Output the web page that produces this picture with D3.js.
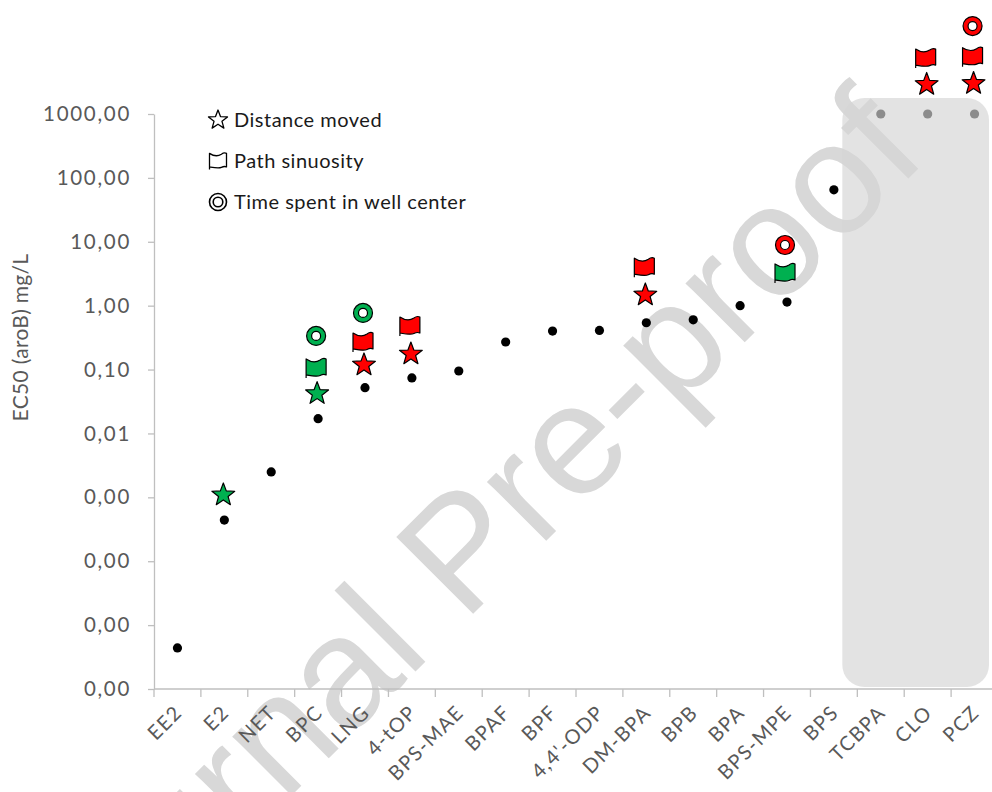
<!DOCTYPE html>
<html>
<head>
<meta charset="utf-8">
<script src="https://cdn.jsdelivr.net/npm/d3@7"></script>
<style>
  html, body { margin: 0; padding: 0; background: #fff; }
  svg { display: block; }
</style>
</head>
<body>
<svg id="chart" width="992" height="792"></svg>
<script>
// Compounds along the x axis
const categories = ["EE2", "E2", "NET", "BPC", "LNG", "4-tOP", "BPS-MAE", "BPAF", "BPF",
  "4,4'-ODP", "DM-BPA", "BPB", "BPA", "BPS-MPE", "BPS", "TCBPA", "CLO", "PCZ"];

// EC50 (aroB) in mg/L, one per compound
const ec50Values = [4.4e-6, 4.4e-4, 2.5e-3, 0.017, 0.052, 0.074, 0.095, 0.27, 0.40,
  0.41, 0.54, 0.60, 1.0, 1.14, 65, 1000, 1000, 1000];

// Behavioural endpoints: [compound, value, colour class]
const distanceMoved = [
  ["E2", 1.09e-3, "green"], ["BPC", 0.042, "green"], ["LNG", 0.118, "red"],
  ["4-tOP", 0.175, "red"], ["DM-BPA", 1.47, "red"], ["CLO", 2900, "red"], ["PCZ", 3000, "red"]
];
const pathSinuosity = [
  ["BPC", 0.106, "green"], ["LNG", 0.27, "red"], ["4-tOP", 0.48, "red"],
  ["DM-BPA", 4.0, "red"], ["BPS-MPE", 3.25, "green"], ["CLO", 7500, "red"], ["PCZ", 7900, "red"]
];
const timeInCenter = [
  ["BPC", 0.336, "green"], ["LNG", 0.77, "green"], ["BPS-MPE", 8.9, "red"], ["PCZ", 23800, "red"]
];

const yTicks = [1e-6, 1e-5, 1e-4, 1e-3, 1e-2, 1e-1, 1, 10, 100, 1000];
const legendItems = ["Distance moved", "Path sinuosity", "Time spent in well center"];
const highlighted = ["TCBPA", "CLO", "PCZ"];

const colours = { green: "#00b050", red: "#ff0000" };
const axisGrey = "#bfbfbf";
const labelGrey = "#595959";
const font = "Lato, 'Open Sans', sans-serif";

const svg = d3.select("#chart");

const x = d3.scaleBand().domain(categories).range([154, 998]);
const y = d3.scaleLog().domain([1e-6, 1e3]).range([689, 114]);
const cx = c => x(c) + x.bandwidth() / 2;

const locale = d3.formatLocale({ decimal: ",", thousands: "", grouping: [3], currency: ["", ""] });
const fmt = locale.format(".2f");

// Marker shapes
function starPath(R, r) {
  const pts = [];
  for (let i = 0; i < 10; i++) {
    const a = -Math.PI / 2 + i * Math.PI / 5;
    const rad = i % 2 === 0 ? R : r;
    pts.push([rad * Math.cos(a), rad * Math.sin(a)]);
  }
  return "M" + pts.map(p => p[0].toFixed(2) + "," + p[1].toFixed(2)).join("L") + "Z";
}
function flagPath(s) {
  const k = s / 20;
  const p = (a, b) => (a * k).toFixed(2) + "," + (b * k).toFixed(2);
  return "M" + p(-10, -9) + "C" + p(-4, -5) + " " + p(1, -6) + " " + p(4, -8) +
    "C" + p(6, -9.5) + " " + p(8, -10) + " " + p(10, -9) +
    "L" + p(10, 7) + "C" + p(8, 6) + " " + p(6, 6.5) + " " + p(4, 7.5) +
    "C" + p(1, 9) + " " + p(-4, 8) + " " + p(-10, 7) + "Z" +
    "M" + p(-10, 7) + "L" + p(-10, 10);
}
function ringPath(R, r) {
  return `M${R},0A${R},${R} 0 1,1 ${-R},0A${R},${R} 0 1,1 ${R},0Z` +
    `M${r},0A${r},${r} 0 1,0 ${-r},0A${r},${r} 0 1,0 ${r},0Z`;
}

// Watermark
svg.append("text")
  .attr("transform", "translate(498,589) rotate(-45)")
  .attr("text-anchor", "middle")
  .attr("font-family", "'Liberation Sans', Arial, sans-serif")
  .attr("font-size", 158)
  .attr("fill", "#d8d8d8")
  .text("Journal Pre-proof");

// Y axis
const yAxis = svg.append("g")
  .attr("transform", "translate(154,0)")
  .call(d3.axisLeft(y).tickValues(yTicks).tickFormat(fmt).tickSize(6).tickSizeOuter(0));
yAxis.select(".domain").attr("stroke", axisGrey).attr("stroke-width", 1.3);
yAxis.selectAll(".tick line").attr("stroke", axisGrey).attr("stroke-width", 1.3);
yAxis.selectAll(".tick text")
  .attr("x", -23)
  .attr("fill", labelGrey)
  .attr("font-family", font)
  .attr("font-size", 20.5)
  .attr("letter-spacing", 1.7);

// X axis: line, boundary ticks, rotated labels
const xAxis = svg.append("g");
xAxis.append("line")
  .attr("x1", 154).attr("x2", 998)
  .attr("y1", y(1e-6)).attr("y2", y(1e-6))
  .attr("stroke", axisGrey).attr("stroke-width", 1.3);
xAxis.selectAll("line.tick")
  .data(categories)
  .join("line")
  .attr("class", "tick")
  .attr("x1", d => x(d)).attr("x2", d => x(d))
  .attr("y1", y(1e-6)).attr("y2", y(1e-6) + 8)
  .attr("stroke", axisGrey).attr("stroke-width", 1.3);
xAxis.selectAll("text")
  .data(categories)
  .join("text")
  .attr("transform", d => `translate(${cx(d) + 1},${y(1e-6) + 20}) rotate(-45)`)
  .attr("text-anchor", "end")
  .attr("dy", "0.35em")
  .attr("fill", labelGrey)
  .attr("font-family", font)
  .attr("font-size", 20)
  .attr("letter-spacing", 1.3)
  .text(d => d);

// Y axis title
svg.append("text")
  .attr("transform", `translate(28,${(y(1e-6) + y(1e3)) / 2 - 64}) rotate(-90)`)
  .attr("text-anchor", "middle")
  .attr("fill", labelGrey)
  .attr("font-family", font)
  .attr("font-size", 21)
  .attr("letter-spacing", 0.3)
  .text("EC50 (aroB) mg/L");

// EC50 points
svg.append("g")
  .selectAll("circle")
  .data(categories.map((c, i) => [c, ec50Values[i]]))
  .join("circle")
  .attr("cx", d => cx(d[0]))
  .attr("cy", d => y(d[1]))
  .attr("r", 4.6)
  .attr("fill", "#000");

// Shaded block over the reference compounds
const bx0 = x(highlighted[0]) - 15;
const bx1 = x(highlighted[highlighted.length - 1]) + x.bandwidth() - 9;
svg.append("rect")
  .attr("x", bx0).attr("y", y(1000) - 16)
  .attr("width", bx1 - bx0).attr("height", y(1e-6) - 2 - (y(1000) - 16))
  .attr("rx", 22).attr("ry", 22)
  .attr("fill", "rgb(212,212,212)")
  .attr("fill-opacity", 0.66);

// Behavioural endpoint markers
const markers = svg.append("g").attr("stroke", "#000").attr("stroke-width", 1.2).attr("stroke-linejoin", "round");
markers.selectAll("path.star")
  .data(distanceMoved)
  .join("path")
  .attr("class", "star")
  .attr("d", starPath(12, 5))
  .attr("transform", d => `translate(${cx(d[0]) - 1},${y(d[1])})`)
  .attr("fill", d => colours[d[2]]);
markers.selectAll("path.flag")
  .data(pathSinuosity)
  .join("path")
  .attr("class", "flag")
  .attr("d", flagPath(20))
  .attr("transform", d => `translate(${cx(d[0]) - 2},${y(d[1])})`)
  .attr("fill", d => colours[d[2]]);
markers.selectAll("path.ring")
  .data(timeInCenter)
  .join("path")
  .attr("class", "ring")
  .attr("d", ringPath(9.5, 4.5))
  .attr("fill-rule", "evenodd")
  .attr("transform", d => `translate(${cx(d[0]) - 2},${y(d[1])})`)
  .attr("fill", d => colours[d[2]]);

// Legend
const legend = svg.append("g").attr("font-family", font).attr("font-size", 20).attr("fill", "#1a1a1a");
const legendShapes = [starPath(10, 4.2), flagPath(17), null];
legendItems.forEach((label, i) => {
  const ly = 120 + i * 41;
  const g = legend.append("g").attr("transform", `translate(218,${ly})`);
  if (legendShapes[i]) {
    g.append("path").attr("d", legendShapes[i]).attr("fill", "#fff")
      .attr("stroke", "#000").attr("stroke-width", 1.3).attr("stroke-linejoin", "round");
  } else {
    g.append("circle").attr("r", 8.5).attr("fill", "none").attr("stroke", "#000").attr("stroke-width", 1.6);
    g.append("circle").attr("r", 4.8).attr("fill", "none").attr("stroke", "#000").attr("stroke-width", 1.6);
  }
  legend.append("text")
    .attr("x", 234).attr("y", ly)
    .attr("dy", "0.35em")
    .attr("letter-spacing", 0.5)
    .text(label);
});
</script>
</body>
</html>
